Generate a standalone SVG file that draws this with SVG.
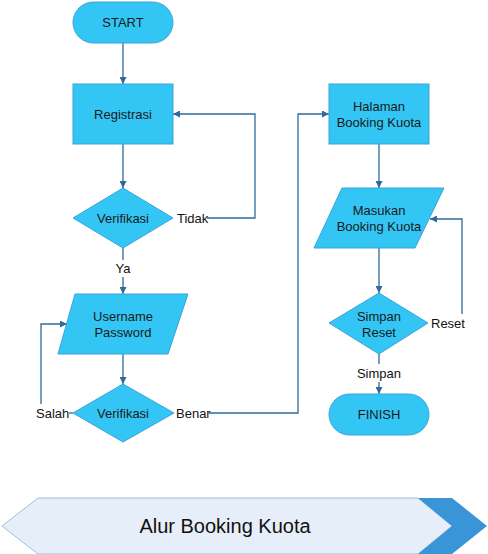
<svg xmlns="http://www.w3.org/2000/svg" width="488" height="554" viewBox="0 0 488 554">
<defs>
<style>
.node{fill:#33C6F4;stroke:#3BA3D9;stroke-width:1}
.t{font-family:"Liberation Sans",Arial,sans-serif;font-size:13px;fill:#1a1a1a;text-anchor:middle;dominant-baseline:central}
.lbl{font-family:"Liberation Sans",Arial,sans-serif;font-size:13px;fill:#111;dominant-baseline:central}
.c{fill:none;stroke:#2F6A9A;stroke-width:1.3}
</style>
<marker id="ah" viewBox="0 0 10 10" refX="10" refY="5" markerWidth="7" markerHeight="7" orient="auto" markerUnits="userSpaceOnUse">
<path d="M0,0 L10,5 L0,10 Z" fill="#2F6A9A"/>
</marker>
</defs>
<rect width="488" height="554" fill="#fff"/>
<g id="connectors">
<path class="c" d="M123,43 V84" marker-end="url(#ah)"/>
<path class="c" d="M123,144 V188" marker-end="url(#ah)"/>
<path class="c" d="M123,248 V260"/>
<path class="c" d="M123,277 V294" marker-end="url(#ah)"/>
<path class="c" d="M207,218 H255 V114 H173" marker-end="url(#ah)"/>
<path class="c" d="M123,354 V384" marker-end="url(#ah)"/>
<path class="c" d="M73,413 H69"/>
<path class="c" d="M41,404 V324 H67" marker-end="url(#ah)"/>
<path class="c" d="M209,413 H298 V114 H329" marker-end="url(#ah)"/>
<path class="c" d="M379,144 V188" marker-end="url(#ah)"/>
<path class="c" d="M379,248 V293" marker-end="url(#ah)"/>
<path class="c" d="M462,314 V219 H430" marker-end="url(#ah)"/>
<path class="c" d="M379,354 V364"/>
<path class="c" d="M379,382 V394" marker-end="url(#ah)"/>
</g>
<g id="start"><rect class="node" x="73" y="2" width="100" height="41" rx="20.5"/><text class="t" x="123" y="22">START</text></g>
<g id="registrasi"><rect class="node" x="73" y="84" width="100" height="60"/><text class="t" x="123" y="114">Registrasi</text></g>
<g id="verifikasi1"><polygon class="node" points="123,188 173,218 123,248 73,218"/><text class="t" x="123" y="218">Verifikasi</text></g>
<g id="userpass"><polygon class="node" points="75,294 188,294 168,354 58,354"/><text class="t" x="123" y="316">Username</text><text class="t" x="123" y="332">Password</text></g>
<g id="verifikasi2"><polygon class="node" points="123,384 174,413 123,442 73,413"/><text class="t" x="123" y="413">Verifikasi</text></g>
<g id="halaman"><rect class="node" x="329" y="84" width="100" height="60"/><text class="t" x="379" y="106">Halaman</text><text class="t" x="379" y="122">Booking Kuota</text></g>
<g id="masukan"><polygon class="node" points="342,188 444,188 415,248 314,248"/><text class="t" x="379" y="210">Masukan</text><text class="t" x="379" y="226">Booking Kuota</text></g>
<g id="simpanreset"><polygon class="node" points="379,293 428,323 379,354 329,323"/><text class="t" x="379" y="316">Simpan</text><text class="t" x="379" y="332">Reset</text></g>
<g id="finish"><rect class="node" x="329" y="394" width="100" height="41" rx="20.5"/><text class="t" x="379" y="414">FINISH</text></g>
<g id="labels">
<text class="lbl" x="36" y="413">Salah</text>
<text class="lbl" x="177" y="218">Tidak</text>
<text class="lbl" x="123" y="268" text-anchor="middle">Ya</text>
<text class="lbl" x="176" y="413">Benar</text>
<text class="lbl" x="431" y="323">Reset</text>
<text class="lbl" x="379" y="373" text-anchor="middle">Simpan</text>
</g>
<g id="banner">
<polygon points="38,498 418,498 452,526 418,554 38,554 2,526" fill="#E6EEF9" stroke="#9DBFE0" stroke-width="1"/>
<polygon points="418,498 452,498 487,526 452,554 418,554 452,526" fill="#3A95D8"/>
<text x="225" y="526" font-family="'Liberation Sans',Arial,sans-serif" font-size="20" fill="#111" text-anchor="middle" dominant-baseline="central">Alur Booking Kuota</text>
</g>
</svg>
